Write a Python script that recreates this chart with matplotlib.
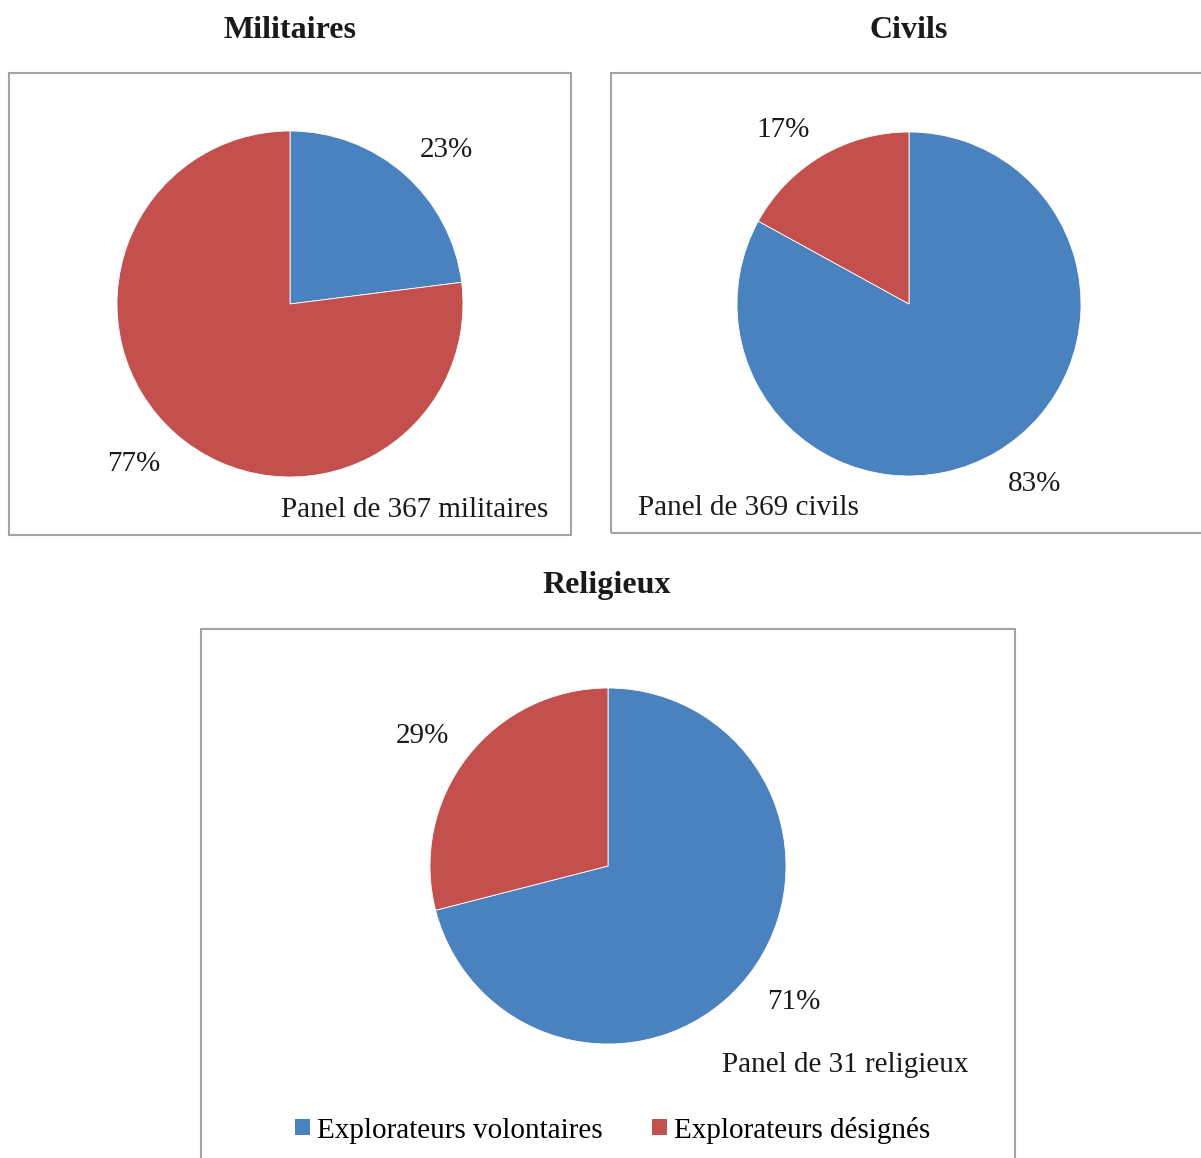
import matplotlib.pyplot as plt
from matplotlib.patches import Patch, Rectangle

plt.rcParams["font.family"] = ["Liberation Serif", "DejaVu Serif"]

W, H = 1201, 1158

series = ["Explorateurs volontaires", "Explorateurs désignés"]
colors = ["#4A81BF", "#C4504D"]

titles = ["Militaires", "Civils", "Religieux"]
panel_notes = ["Panel de 367 militaires", "Panel de 369 civils", "Panel de 31 religieux"]
militaires = [23, 77]
civils = [83, 17]
religieux = [71, 29]

# pixel layout: pie centre, radius, frame box (x0, y0, x1, y1), title pos, note pos
layout = [
    dict(c=(290, 304), r=173, box=(9, 73, 571, 535), title=(290, 30), note=(548, 510, "right")),
    dict(c=(909, 304), r=172, box=(611, 73, 1206, 533), title=(909, 30), note=(638, 508, "left")),
    dict(c=(608, 866), r=178, box=(201, 629, 1015, 1162), title=(607, 586), note=(969, 1065, "right")),
]

fig = plt.figure(figsize=(W / 100, H / 100), dpi=100)


def fx(x):
    return x / W


def fy(y):
    return 1 - y / H


for values, title, note, lay in zip([militaires, civils, religieux], titles, panel_notes, layout):
    x0, y0, x1, y1 = lay["box"]
    fig.patches.append(Rectangle((fx(x0), fy(y1)), fx(x1 - x0), (y1 - y0) / H,
                                 transform=fig.transFigure, fill=False,
                                 edgecolor="#A3A3A3", linewidth=1.5))
    cx, cy = lay["c"]
    r = lay["r"]
    half = 1.5 * r
    ax = fig.add_axes([fx(cx - half), fy(cy + half), 2 * half / W, 2 * half / H])
    labels = [f"{v}%" for v in values]
    wedges, texts = ax.pie(values, labels=labels, colors=colors, startangle=90, counterclock=False,
                           labeldistance=1.13,
                           wedgeprops=dict(edgecolor="white", linewidth=0.6),
                           textprops=dict(fontsize=21, color="#1a1a1a"))
    # excel-style outside labels: nearest corner of the label sits on the ray
    for t in texts:
        x, y = t.get_position()
        t.set_ha("left" if x > 0 else "right")
        t.set_va("baseline" if y > 0 else "top")
    ax.set_xlim(-1.5, 1.5)
    ax.set_ylim(-1.5, 1.5)
    ax.set_aspect("equal")
    ax.axis("off")
    tx, ty = lay["title"]
    fig.text(fx(tx), fy(ty), title, ha="center", va="center", fontsize=23, fontweight="bold", color="#1a1a1a")
    nx, ny, nha = lay["note"]
    fig.text(fx(nx), fy(ny), note, ha=nha, va="center", fontsize=21, color="#1a1a1a")

handles = [Patch(facecolor=c, edgecolor="none") for c in colors]
fig.legend(handles, series, loc="center", bbox_to_anchor=(fx(613), fy(1130)), ncol=2,
           frameon=False, fontsize=21, handlelength=0.5, handleheight=0.5,
           handletextpad=0.25, columnspacing=1.7, borderpad=0)

fig.savefig("out.png", dpi=100)
